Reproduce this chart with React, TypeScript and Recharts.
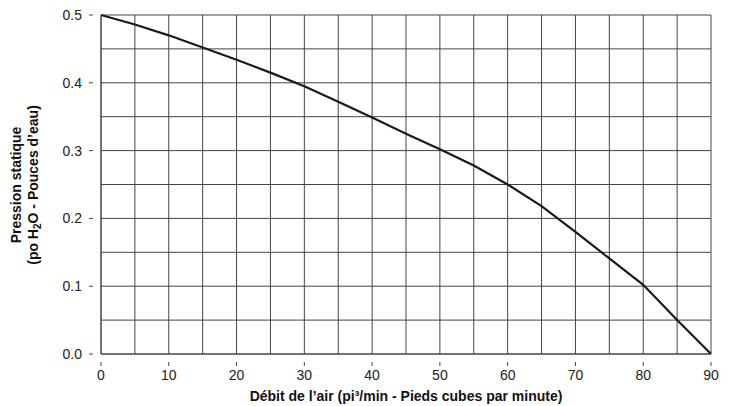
import { CartesianGrid, Line, LineChart, XAxis, YAxis } from 'recharts'

const flow = [0, 5, 10, 15, 20, 25, 30, 35, 40, 45, 50, 55, 60, 65, 70, 75, 80, 85, 90]
const pressure = [0.5, 0.486, 0.47, 0.452, 0.434, 0.415, 0.395, 0.372, 0.349, 0.325, 0.302, 0.278, 0.25, 0.218, 0.18, 0.141, 0.102, 0.05, 0]
const xTicks = [0, 5, 10, 15, 20, 25, 30, 35, 40, 45, 50, 55, 60, 65, 70, 75, 80, 85, 90]
const yTicks = [0, 0.05, 0.1, 0.15, 0.2, 0.25, 0.3, 0.35, 0.4, 0.45, 0.5]
const xLabels = [0, 10, 20, 30, 40, 50, 60, 70, 80, 90]
const yLabels = [0, 0.1, 0.2, 0.3, 0.4, 0.5]

const rows = flow.map((f, i) => ({ flow: f, pressure: pressure[i] }))

const font = '"Liberation Sans", Arial, Helvetica, sans-serif'
const gridColor = '#444'

function XTick({ x, y, payload }: any) {
  if (!xLabels.includes(payload.value)) return null
  return (
    <g>
      <line x1={x} y1={y} x2={x} y2={y + 4} stroke={gridColor} strokeWidth={1} />
      <text x={x} y={y + 18} textAnchor="middle" fontSize={14} fontFamily={font} fill="#222">
        {payload.value}
      </text>
    </g>
  )
}

function YTick({ x, y, payload }: any) {
  const hit = yLabels.find(v => Math.abs(v - payload.value) < 1e-6)
  if (hit === undefined) return null
  return (
    <g>
      <line x1={x} y1={y} x2={x - 4} y2={y} stroke={gridColor} strokeWidth={1} />
      <text x={x - 11} y={y + 5} textAnchor="end" fontSize={14} fontFamily={font} fill="#222">
        {hit.toFixed(1)}
      </text>
    </g>
  )
}

function Titles() {
  return (
    <g fontFamily={font} fontWeight="bold" fontSize={14} fill="#111">
      <g transform="translate(0, 185) rotate(-90)">
        <text x={0} y={21} textAnchor="middle">Pression statique</text>
        <text x={0} y={38} textAnchor="middle">
          (po H<tspan fontSize={10} dy={3}>2</tspan><tspan dy={-3}>O - Pouces d’eau)</tspan>
        </text>
      </g>
      <text x={406} y={401} textAnchor="middle">Débit de l’air (pi³/min - Pieds cubes par minute)</text>
    </g>
  )
}

export default function App() {
  return (
    <div style={{ position: 'absolute', left: 0, top: 0, width: 734, height: 406, background: '#fff' }}>
      <LineChart width={734} height={406} data={rows} margin={{ top: 15, right: 23, bottom: 0, left: 0 }}>
        <CartesianGrid stroke={gridColor} strokeWidth={1} />
        <XAxis
          dataKey="flow"
          type="number"
          domain={[0, 90]}
          ticks={xTicks}
          interval={0}
          height={52}
          tickLine={false}
          axisLine={{ stroke: gridColor }}
          tick={<XTick />}
        />
        <YAxis
          type="number"
          domain={[0, 0.5]}
          ticks={yTicks}
          interval={0}
          width={101}
          tickLine={false}
          axisLine={{ stroke: gridColor }}
          tick={<YTick />}
        />
        <Line
          type="linear"
          dataKey="pressure"
          stroke="#1a1a1a"
          strokeWidth={2.2}
          dot={false}
          isAnimationActive={false}
        />
        <Titles />
      </LineChart>
    </div>
  )
}
